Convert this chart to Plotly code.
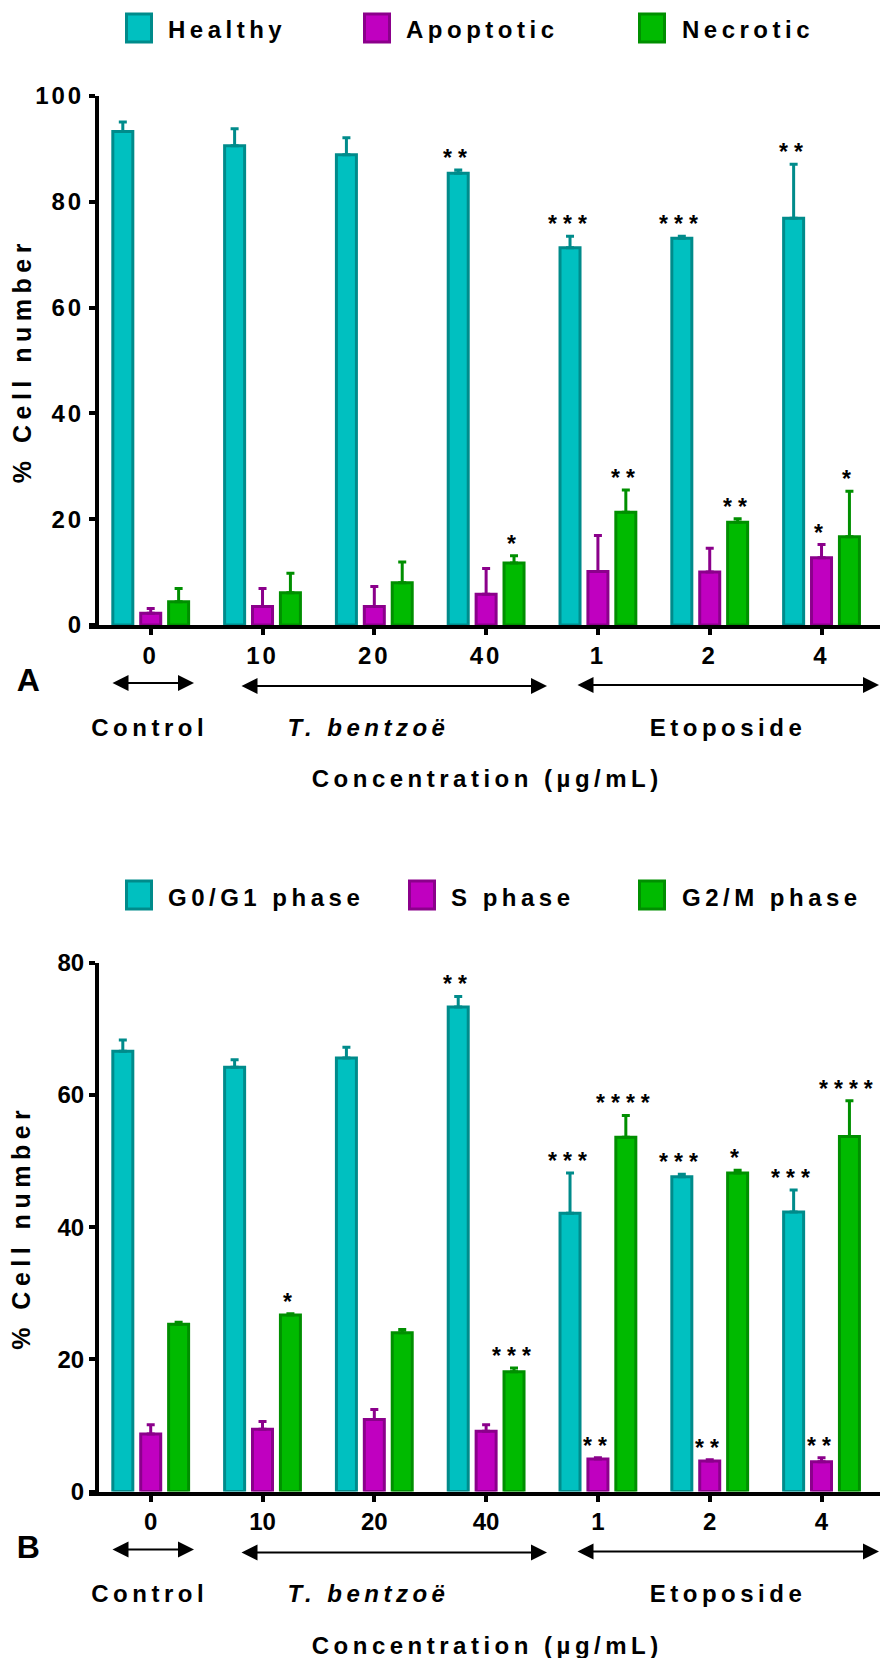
import plotly.graph_objects as go

# ---------------- data ----------------
conc_labels = ['0', '10', '20', '40', '1', '2', '4']

# Panel A : % cell number (cell death)
healthy = [93.3, 90.6, 88.9, 85.4, 71.3, 73.1, 76.9]
healthy_err = [1.8, 3.2, 3.2, 0.6, 2.2, 0.4, 10.2]
apoptotic = [2.2, 3.5, 3.5, 5.8, 10.1, 10.0, 12.7]
apoptotic_err = [0.9, 3.4, 3.8, 4.9, 6.8, 4.5, 2.5]
necrotic = [4.4, 6.1, 8.0, 11.7, 21.3, 19.4, 16.7]
necrotic_err = [2.5, 3.7, 3.9, 1.4, 4.2, 0.7, 8.6]
healthy_sig = ['', '', '', '**', '***', '***', '**']
apoptotic_sig = ['', '', '', '', '', '', '*']
necrotic_sig = ['', '', '', '*', '**', '**', '*']

# Panel B : % cell number (cell cycle)
g0g1 = [66.6, 64.2, 65.6, 73.3, 42.1, 47.6, 42.3]
g0g1_err = [1.7, 1.1, 1.6, 1.6, 6.1, 0.4, 3.3]
s_phase = [8.7, 9.4, 10.9, 9.1, 4.9, 4.6, 4.5]
s_phase_err = [1.4, 1.2, 1.5, 1.0, 0.2, 0.2, 0.6]
g2m = [25.3, 26.7, 24.0, 18.1, 53.6, 48.2, 53.7]
g2m_err = [0.3, 0.2, 0.5, 0.6, 3.3, 0.4, 5.4]
g0g1_sig = ['', '', '', '**', '***', '***', '***']
s_phase_sig = ['', '', '', '', '**', '**', '**']
g2m_sig = ['', '*', '', '***', '****', '*', '****']

names_a = ['Healthy', 'Apoptotic', 'Necrotic']
names_b = ['G0/G1 phase', 'S phase', 'G2/M phase']
group_names = ['Control', '<i>T. bentzoë</i>', 'Etoposide']
x_title = 'Concentration (µg/mL)'
y_title = '% Cell number'

# ---------------- layout helpers ----------------
W, H = 880, 1658
ML = 89


def fx(p):
    return (p - ML) / (W - ML)


def fy(p):
    return 1 - p / H


FONT = "Liberation Sans, Arial, sans-serif"
FILL = ['#00C0C0', '#C000C0', '#00BA00']
EDGE = ['#008B8B', '#8B008B', '#008F00']
BARGAP = 0.2513
SLOT = (1 - BARGAP) / 3
xs = list(range(len(conc_labels)))
TXT = dict(family=FONT, size=24, color='black', weight='bold')
STAR = dict(family=FONT, size=23, color='black', weight='bold')

panels = [
    dict(xa='x', ya='y', names=names_a,
         vals=[healthy, apoptotic, necrotic],
         errs=[healthy_err, apoptotic_err, necrotic_err],
         sigs=[healthy_sig, apoptotic_sig, necrotic_sig],
         ymax=100, top=96, zero=625, letter='A',
         legend_sw=[125, 363, 638], legend_tx=[166, 404, 680], legend_y=30),
    dict(xa='x2', ya='y2', names=names_b,
         vals=[g0g1, s_phase, g2m],
         errs=[g0g1_err, s_phase_err, g2m_err],
         sigs=[g0g1_sig, s_phase_sig, g2m_sig],
         ymax=80, top=962.7, zero=1491.5, letter='B',
         legend_sw=[125, 408, 638], legend_tx=[166, 449, 680], legend_y=897),
]

fig = go.Figure()
annotations = []
shapes = []


def label(x, y, text, font=TXT, **kw):
    d = dict(xref='paper', yref='paper', x=fx(x), y=fy(y), xanchor='center',
             yanchor='middle', showarrow=False, text=text, font=font)
    d.update(kw)
    annotations.append(d)


for pi, P in enumerate(panels):
    for j in range(3):
        fig.add_trace(go.Bar(
            x=xs, y=P['vals'][j], name=P['names'][j],
            xaxis=P['xa'], yaxis=P['ya'], showlegend=False,
            marker=dict(color=FILL[j], line=dict(color=EDGE[j], width=3)),
            error_y=dict(type='data', symmetric=False, array=P['errs'][j],
                         arrayminus=[0] * len(xs), color=EDGE[j],
                         thickness=3, width=4),
        ))
        for i, s in enumerate(P['sigs'][j]):
            if s:
                annotations.append(dict(
                    xref=P['xa'], yref=P['ya'],
                    x=xs[i] + (j - 1) * SLOT,
                    y=P['vals'][j][i] + P['errs'][j][i],
                    xanchor='center', yanchor='bottom', yshift=-3,
                    showarrow=False, text=s, font=STAR))

    z = P['zero']
    # legend (custom swatches + labels)
    for j in range(3):
        x0 = P['legend_sw'][j]
        yc = P['legend_y'] - 2
        shapes.append(dict(type='rect', xref='paper', yref='paper',
                           x0=fx(x0 + 1.5), x1=fx(x0 + 26.5),
                           y0=fy(yc - 14), y1=fy(yc + 14),
                           fillcolor=FILL[j], line=dict(color=EDGE[j], width=3)))
        label(P['legend_tx'][j], P['legend_y'], P['names'][j],
              xanchor='left', align='left')
    # bracket arrows under the category groups
    arrows = [(111, 194, z + 58), (240, 547, z + 61), (576, 882, z + 60)]
    for (a0, a1, ay_) in arrows:
        annotations.append(dict(xref='paper', yref='paper', x=fx(a1), y=fy(ay_),
                                ax=-(a1 - a0), ay=0, axref='pixel', ayref='pixel',
                                text='', showarrow=True, arrowhead=2, startarrowhead=2,
                                arrowside='end+start', arrowwidth=2, arrowsize=1.6,
                                startarrowsize=1.6, arrowcolor='black',
                                standoff=0, startstandoff=0))
    for gname, gx in zip(group_names, [149, 368, 728]):
        label(gx, z + 102, gname)
    label(487, z + 154, x_title)
    label(21, (P['top'] + z) / 2, y_title, textangle=-90,
          font=dict(family=FONT, size=25, color='black', weight='bold'))
    label(30, z + 55, P['letter'],
          font=dict(family=FONT, size=32, color='black', weight='bold'))

axis_font = dict(family=FONT, size=24, color='black', weight='bold')
common_x = dict(range=[-0.552, 6.523], tickvals=xs, ticktext=conc_labels,
                showline=True, linewidth=4, linecolor='black', ticks='outside',
                ticklen=6, tickwidth=4, tickcolor='black', tickfont=axis_font,
                showgrid=False, zeroline=False, domain=[0, 1], fixedrange=True,
                automargin=False)
common_y = dict(showline=True, linewidth=4, linecolor='black', ticks='outside',
                ticklen=6, tickwidth=4, tickcolor='black', tickfont=axis_font,
                showgrid=False, zeroline=False, anchor='free', position=fx(97),
                fixedrange=True, automargin=False)

fig.update_layout(
    template='none',
    width=W, height=H, margin=dict(l=ML, r=0, t=0, b=0, pad=0, autoexpand=False),
    plot_bgcolor='white', paper_bgcolor='white',
    barmode='group', bargap=BARGAP, bargroupgap=0.283,
    showlegend=False,
    xaxis=dict(anchor='y', **common_x),
    xaxis2=dict(anchor='y2', **common_x),
    yaxis=dict(domain=[fy(panels[0]['zero']), fy(panels[0]['top'])],
               range=[0, panels[0]['ymax']], tickvals=list(range(0, 101, 20)), **common_y),
    yaxis2=dict(domain=[fy(panels[1]['zero']), fy(panels[1]['top'])],
                range=[0, panels[1]['ymax']], tickvals=list(range(0, 81, 20)), **common_y),
    annotations=annotations, shapes=shapes,
    font=dict(family=FONT, color='black'),
)

post = ("var st=document.createElement('style');"
        "st.textContent='body{margin:0;overflow:hidden} "
        ".main-svg .annotation-text{letter-spacing:4.5px} "
        ".main-svg .annotation-text[style*=\"font-size: 23px\"]{letter-spacing:6px} "
        ".main-svg .annotation-text[style*=\"font-size: 25px\"]{letter-spacing:5.5px} "
        ".main-svg .xtick text, .main-svg .ytick text{letter-spacing:3px}';"
        "document.head.appendChild(st);")
fig.write_html("out.html", post_script=post, config={'displayModeBar': False})
